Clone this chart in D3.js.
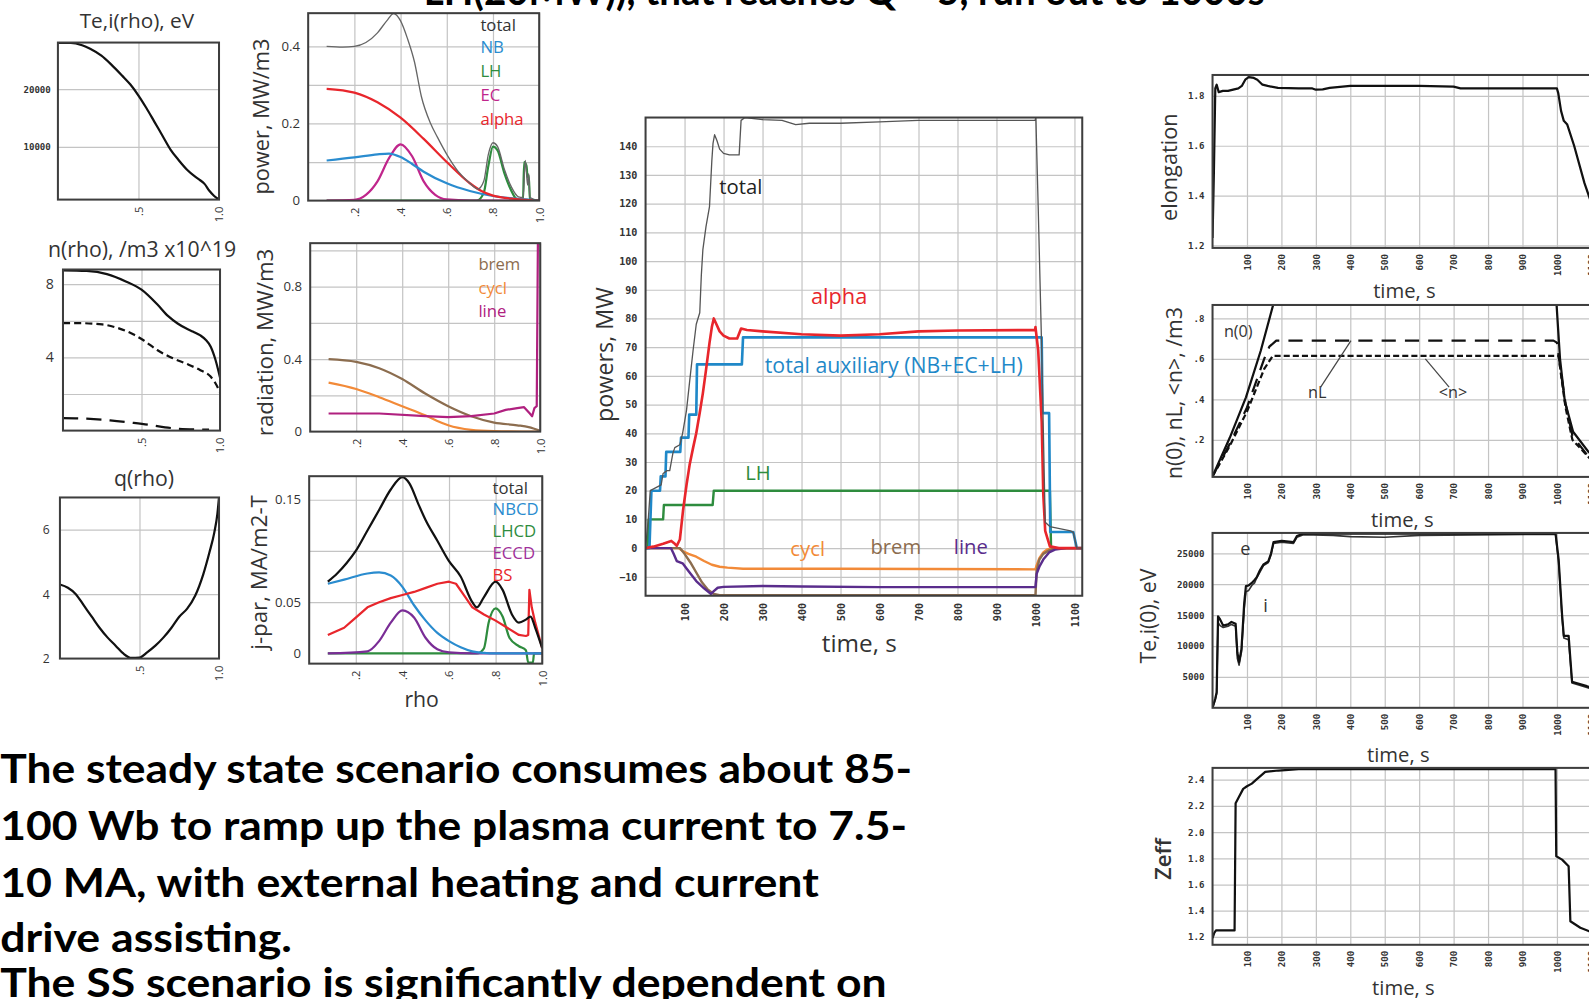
<!DOCTYPE html>
<html><head><meta charset="utf-8">
<script src="https://cdn.jsdelivr.net/npm/d3@7"></script>
<style>body{margin:0;background:#fff;overflow:hidden}</style>
</head><body>
<svg id="c" width="1589" height="999" viewBox="0 0 1568 986"></svg>
<script>
// ---------------- DATA ----------------
// radial profiles [rho, value]
const teProf = [[0,28000],[0.08,28000],[0.15,27600],[0.2,27000],[0.27,25800],[0.33,24300],[0.4,22300],[0.45,20800],[0.5,18900],[0.55,16700],[0.6,14300],[0.65,11900],[0.7,9500],[0.75,7700],[0.8,6100],[0.85,4900],[0.88,4300],[0.91,3600],[0.94,2400],[0.97,1500],[1.0,900]];
const nSolid = [[0,8.75],[0.15,8.72],[0.28,8.55],[0.4,8.15],[0.5,7.7],[0.6,6.9],[0.67,6.25],[0.73,5.85],[0.78,5.6],[0.83,5.4],[0.875,5.2],[0.91,4.95],[0.94,4.6],[0.97,3.9],[1.0,2.9]];
const nShort = [[0,5.87],[0.1,5.87],[0.25,5.8],[0.35,5.6],[0.45,5.25],[0.51,4.95],[0.6,4.4],[0.7,3.95],[0.8,3.6],[0.875,3.3],[0.94,2.95],[0.97,2.6],[1.0,2.1]];
const nLong = [[0,0.68],[0.15,0.65],[0.3,0.56],[0.45,0.42],[0.56,0.3],[0.65,0.18],[0.74,0.1],[0.85,0.06],[0.93,0.05]];
const qProf = [[0,4.3],[0.05,4.2],[0.1,4.0],[0.15,3.65],[0.2,3.3],[0.25,2.95],[0.3,2.65],[0.35,2.4],[0.4,2.15],[0.45,2.02],[0.5,2.03],[0.55,2.2],[0.6,2.4],[0.65,2.65],[0.7,2.95],[0.75,3.3],[0.8,3.55],[0.85,3.95],[0.9,4.6],[0.94,5.3],[0.97,5.9],[0.99,6.5],[1.0,7.0]];

const pTotal = [[0.08,0.40],[0.15,0.398],[0.2,0.40],[0.25,0.41],[0.3,0.435],[0.34,0.466],[0.37,0.485],[0.4,0.466],[0.43,0.42],[0.46,0.36],[0.49,0.27],[0.53,0.2],[0.56,0.164],[0.6,0.12],[0.65,0.075],[0.7,0.045],[0.735,0.03],[0.76,0.05],[0.78,0.12],[0.8,0.15],[0.82,0.14],[0.85,0.08],[0.88,0.035],[0.91,0.01],[0.93,0.008],[0.94,0.104],[0.95,0.04],[0.955,0.07],[0.96,0.008],[1.0,0]];
const pNB = [[0.08,0.104],[0.2,0.112],[0.3,0.12],[0.35,0.122],[0.4,0.113],[0.45,0.095],[0.5,0.075],[0.6,0.045],[0.7,0.025],[0.8,0.012],[0.9,0.005],[1.0,0]];
const pLH = [[0.08,0],[0.73,0],[0.76,0.02],[0.78,0.09],[0.8,0.14],[0.82,0.13],[0.85,0.07],[0.88,0.025],[0.9,0.005],[0.93,0],[0.935,0.1],[0.945,0.09],[0.95,0.06],[0.955,0.065],[0.96,0],[1.0,0]];
const pEC = [[0.08,0],[0.2,0.002],[0.25,0.015],[0.3,0.05],[0.35,0.11],[0.4,0.146],[0.45,0.115],[0.5,0.05],[0.55,0.015],[0.6,0.003],[0.7,0],[1.0,0]];
const pAlpha = [[0.08,0.29],[0.2,0.28],[0.3,0.255],[0.4,0.215],[0.5,0.16],[0.6,0.1],[0.7,0.045],[0.75,0.025],[0.8,0.013],[0.9,0.004],[1.0,0]];

const rBrem = [[0.08,0.4],[0.2,0.385],[0.3,0.35],[0.4,0.29],[0.5,0.21],[0.6,0.14],[0.7,0.085],[0.8,0.05],[0.9,0.035],[0.95,0.025],[1.0,0.005]];
const rCycl = [[0.08,0.27],[0.2,0.235],[0.3,0.19],[0.4,0.14],[0.5,0.09],[0.55,0.06],[0.6,0.035],[0.7,0.01],[0.8,0.003],[1.0,0]];
const rLine = [[0.08,0.1],[0.3,0.1],[0.5,0.085],[0.6,0.08],[0.7,0.085],[0.8,0.1],[0.85,0.12],[0.9,0.13],[0.93,0.135],[0.955,0.1],[0.965,0.085],[0.975,0.13],[0.985,0.14],[0.99,1.04],[1.0,1.04]];

const jTotal = [[0.08,0.07],[0.12,0.078],[0.16,0.088],[0.2,0.1],[0.25,0.12],[0.3,0.14],[0.35,0.16],[0.4,0.172],[0.43,0.166],[0.47,0.145],[0.5,0.13],[0.55,0.11],[0.6,0.09],[0.65,0.075],[0.7,0.05],[0.72,0.045],[0.75,0.055],[0.8,0.07],[0.83,0.062],[0.87,0.038],[0.9,0.03],[0.93,0.033],[0.95,0.036],[0.97,0.025],[1.0,0.005]];
const jNBCD = [[0.08,0.068],[0.15,0.072],[0.25,0.078],[0.3,0.079],[0.35,0.076],[0.4,0.065],[0.45,0.047],[0.5,0.032],[0.55,0.02],[0.6,0.012],[0.65,0.006],[0.7,0.002],[0.75,0.0005],[0.8,0],[1.0,0]];
const jLHCD = [[0.08,0],[0.72,0],[0.75,0.005],[0.77,0.03],[0.8,0.044],[0.83,0.036],[0.86,0.015],[0.9,0.007],[0.93,0.003],[0.94,-0.009],[0.96,-0.009],[0.965,0],[1.0,0]];
const jECCD = [[0.08,0],[0.25,0.002],[0.3,0.012],[0.35,0.03],[0.4,0.042],[0.45,0.035],[0.5,0.015],[0.55,0.004],[0.6,0.001],[0.7,0],[1.0,0]];
const jBS = [[0.08,0.018],[0.15,0.025],[0.2,0.035],[0.25,0.045],[0.3,0.05],[0.35,0.054],[0.4,0.057],[0.45,0.06],[0.5,0.064],[0.55,0.068],[0.6,0.07],[0.63,0.068],[0.67,0.055],[0.7,0.045],[0.75,0.038],[0.8,0.032],[0.85,0.025],[0.9,0.018],[0.93,0.017],[0.94,0.018],[0.945,0.062],[0.955,0.045],[0.97,0.03],[1.0,0.005]];

// time traces [time s, value]
const powTotal = [[0,0],[7,10],[12,20],[40,22],[45,26],[55,27],[62,27],[70,33],[75,35],[88,36],[95,40],[105,48],[113,58],[122,69],[130,78],[139,82],[143,95],[147,104],[155,112],[164,119],[170,135],[173,141],[177,144],[183,142],[190,139],[200,137.5],[215,137],[240,137],[245,149],[255,150],[300,149.3],[350,149],[385,147.5],[420,148],[500,148],[600,148.5],[700,149],[999,149],[1001,150],[1007,119],[1016,69],[1025,9],[1037,7.5],[1090,6],[1097,5.5],[1106,0],[1120,0]];
const powAlpha = [[0,0],[20,0.5],[45,1.5],[66,2.5],[75,1.5],[80,0.8],[88,3],[96,13],[105,22],[113,29],[122,35],[130,40],[140,48],[147,54],[155,62],[164,71.5],[170,77],[175,80],[180,78.5],[190,75.5],[200,74],[215,73],[235,73],[245,76.5],[260,76],[300,75.5],[400,74.5],[500,74],[600,74.5],[700,75.5],[800,75.8],[999,76],[1000,77],[1007,69],[1016,44],[1020,19],[1025,6],[1037,0.6],[1060,0],[1120,0]];
const powAux = [[0,0],[10,0],[15,20],[37,20],[39,25],[51,25],[53,33.5],[89,33.5],[91,38.5],[110,38.5],[112,46.5],[130,46.5],[132,64],[247,64],[250,73.4],[1016,73.4],[1018,47],[1035,47],[1038,5.6],[1097,5.6],[1106,0],[1120,0]];
const powLH = [[0,0],[5,0],[8,10],[45,10],[47,15],[172,15],[175,20],[1037,20],[1040,0],[1120,0]];
const powCycl = [[0,0],[85,0],[95,-1],[110,-2],[130,-3],[150,-4.5],[170,-5.8],[190,-6.5],[210,-6.8],[250,-7.2],[500,-7.2],[1000,-7.4],[1003,-6],[1010,-3.5],[1020,-1.5],[1030,-0.5],[1040,0],[1120,0]];
const powBrem = [[0,0],[88,0],[100,-2],[115,-5],[130,-8.5],[145,-12],[160,-14.5],[175,-16],[190,-16.4],[400,-16.4],[1000,-16.4],[1003,-8],[1010,-4],[1020,-2],[1035,-0.8],[1050,0],[1120,0]];
const powLine = [[0,0],[65,0],[72,-2],[80,-4.5],[95,-5.3],[110,-8],[130,-11.5],[150,-14],[168,-16],[175,-15],[185,-13.8],[200,-13.5],[300,-13.2],[400,-13.4],[600,-13.6],[1000,-13.6],[1003,-9],[1010,-6.5],[1020,-4],[1035,-1.5],[1050,-0.5],[1080,0],[1120,0]];

const elong = [[0,1.23],[4,1.5],[8,1.83],[12,1.845],[18,1.815],[30,1.82],[45,1.82],[60,1.825],[75,1.83],[85,1.84],[95,1.865],[105,1.875],[120,1.872],[130,1.865],[145,1.845],[160,1.84],[190,1.832],[250,1.83],[290,1.83],[300,1.825],[320,1.826],[340,1.832],[400,1.84],[600,1.84],[700,1.837],[720,1.83],[1000,1.83],[1004,1.81],[1012,1.74],[1020,1.7],[1030,1.685],[1050,1.6],[1080,1.45],[1100,1.37],[1120,1.28]];
const nCentral = [[0,0.02],[50,0.21],[97,0.41],[140,0.64],[176,0.866],[999,0.866],[1009,0.6],[1023,0.39],[1047,0.24],[1092,0.14],[1120,0.1]];
const nLine = [[0,0.02],[50,0.18],[100,0.36],[150,0.6],[165,0.66],[185,0.69],[990,0.69],[1000,0.68],[1010,0.55],[1025,0.38],[1045,0.22],[1090,0.12],[1120,0.09]];
const nAvg = [[0,0.02],[50,0.17],[100,0.34],[150,0.55],[175,0.615],[1005,0.615],[1012,0.52],[1025,0.36],[1045,0.2],[1100,0.1],[1120,0.08]];
const te0 = [[0,0],[8,1500],[12,2500],[16,14800],[22,14300],[31,13300],[45,13500],[55,13900],[67,13600],[72,9000],[77,7400],[84,9500],[92,17000],[97,19700],[105,19800],[114,20200],[122,20700],[128,21100],[138,22300],[148,23200],[162,23700],[170,25000],[177,26800],[201,27000],[235,26800],[245,27800],[264,28200],[996,28200],[1005,24000],[1015,15000],[1020,11650],[1034,11650],[1044,4200],[1087,3500],[1120,2800]];
const ti0 = [[0,0],[8,1300],[12,2300],[16,13800],[22,13300],[31,13000],[45,13200],[55,13500],[67,13200],[72,8000],[77,6900],[84,9000],[92,16000],[97,18800],[105,19000],[114,19800],[122,20200],[128,21000],[138,22000],[148,23000],[162,23500],[170,24800],[177,26600],[201,26800],[235,26600],[245,27600],[264,28000],[350,27900],[400,27700],[500,27600],[600,27900],[996,28100],[1005,23500],[1015,14500],[1020,11300],[1034,11000],[1044,4000],[1087,3300],[1120,2700]];
const zeff = [[0,1.19],[5,1.23],[10,1.25],[64,1.25],[67,2.22],[75,2.26],[89,2.33],[100,2.35],[114,2.37],[127,2.4],[153,2.46],[191,2.47],[250,2.48],[996,2.48],[998,1.815],[1015,1.79],[1034,1.74],[1039,1.32],[1068,1.27],[1092,1.245],[1120,1.23]];

// ticks
const rhoTicksLeft = [0.5, 1.0];
const rhoTicksMid = [0.2, 0.4, 0.6, 0.8, 1.0];
const timeTicks = [100,200,300,400,500,600,700,800,900,1000,1100];
const teTicks = [10000, 20000];
const nTicks = [4, 8];
const qTicks = [2, 4, 6];
const powTicks = [0, 0.2, 0.4];
const radTicks = [0, 0.4, 0.8];
const jTicks = [0, 0.05, 0.15];
const powerMWTicks = [-10,0,10,20,30,40,50,60,70,80,90,100,110,120,130,140];
const elongTicks = [1.2,1.4,1.6,1.8];
const nRTicks = [0.2,0.4,0.6,0.8];
const teRTicks = [5000,10000,15000,20000,25000];
const zeffTicks = [1.2,1.4,1.6,1.8,2.0,2.2,2.4];

const paragraph = ["The steady state scenario consumes about 85-","100 Wb to ramp up the plasma current to 7.5-","10 MA, with external heating and current","drive assisting.","The SS scenario is significantly dependent on"];
const titleText = "LH(20MW)), that reaches Q ~ 5, run out to 1000s";

// ---------------- DRAW ----------------
const svg = d3.select('#c');
const defs = svg.append('defs');
let clipN = 0;
const SANS = "'Open Sans','Noto Sans',sans-serif";
const MONO = "'DejaVu Sans Mono',monospace";
const C = {red:'#e8262c', blue:'#2a8ccf', green:'#2e8c3e', mag:'#c0268c', purple:'#7a2d96', brown:'#8c6d4f', orange:'#f28a38', gray:'#555'};

const rhoFmt = v => v === 1 ? '1.0' : d3.format('.1f')(v).replace(/^0/, '');
const monoTick = {font: MONO, size: 9, weight: 'bold'};

function panel(o){
  const x = d3.scaleLinear().domain(o.xd).range([o.l, o.r]);
  const y = d3.scaleLinear().domain(o.yd).range([o.b, o.t]);
  const id = 'clip' + (clipN++);
  defs.append('clipPath').attr('id', id).append('rect')
    .attr('x', o.l).attr('y', o.t).attr('width', o.r - o.l).attr('height', o.b - o.t);
  const g = svg.append('g');
  const gx = g.append('g').attr('transform', `translate(0,${o.b})`)
    .call(d3.axisBottom(x).tickValues(o.xgrid).tickSize(-(o.b - o.t)).tickFormat(''));
  const gy = g.append('g').attr('transform', `translate(${o.l},0)`)
    .call(d3.axisLeft(y).tickValues(o.ygrid).tickSize(-(o.r - o.l)).tickFormat(''));
  [gx, gy].forEach(s => { s.select('.domain').remove(); s.selectAll('line').attr('stroke', '#c4c4c4').attr('stroke-width', 1.2); });
  const lg = g.append('g').attr('clip-path', `url(#${id})`);
  o.series.forEach(s => {
    lg.append('path').datum(s.data)
      .attr('d', d3.line().x(d => x(d[0])).y(d => y(d[1])).curve(s.curve || d3.curveLinear))
      .attr('fill', 'none').attr('stroke', s.color).attr('stroke-width', s.w || 2)
      .attr('stroke-dasharray', s.dash || null).attr('stroke-linejoin', 'round');
  });
  g.append('rect').attr('x', o.l).attr('y', o.t).attr('width', o.r - o.l).attr('height', o.b - o.t)
    .attr('fill', 'none').attr('stroke', '#3e3e3e').attr('stroke-width', 2);
  if (o.yticks) {
    const ay = g.append('g').attr('transform', `translate(${o.l},0)`)
      .call(d3.axisLeft(y).tickValues(o.yticks).tickFormat(o.yfmt).tickSize(0).tickPadding(o.ypad || 6));
    ay.select('.domain').remove();
    ay.selectAll('text').attr('font-family', o.yfont.font).attr('font-size', o.yfont.size)
      .attr('font-weight', o.yfont.weight || 'normal').attr('fill', '#333');
  }
  if (o.xticks) {
    const ax = g.append('g').attr('transform', `translate(0,${o.b})`)
      .call(d3.axisBottom(x).tickValues(o.xticks).tickFormat(o.xfmt).tickSize(0));
    ax.select('.domain').remove();
    ax.selectAll('text').attr('y', 0).attr('x', 0).attr('dy', '0.35em')
      .attr('transform', `translate(0,${o.xpad || 5}) rotate(-90)`).attr('text-anchor', 'end')
      .attr('font-family', o.xfont.font).attr('font-size', o.xfont.size)
      .attr('font-weight', o.xfont.weight || 'normal').attr('fill', '#333');
  }
  return {x, y};
}

function label(x, y, s, size, color, opts = {}) {
  const t = svg.append('text').text(s).attr('font-family', opts.font || SANS).attr('font-size', size)
    .attr('fill', color || '#222').attr('dy', '0.35em').attr('font-weight', opts.weight || 'normal');
  if (opts.rotate) t.attr('transform', `translate(${x},${y}) rotate(-90)`).attr('text-anchor', 'middle');
  else t.attr('x', x).attr('y', y).attr('text-anchor', opts.anchor || 'middle');
  return t;
}

const mono = d3.curveMonotoneX;
// ---- left column ----
panel({l:57, r:216, t:42, b:197, xd:[0,1], yd:[877,28070], xgrid:[0.5], ygrid:[10000,20000],
  xticks:rhoTicksLeft, xfmt:rhoFmt, xfont:{font:SANS,size:11}, xpad:7,
  yticks:teTicks, yfmt:d3.format('d'), yfont:monoTick, ypad:7,
  series:[{data:teProf, color:'#111', w:2.2, curve:mono}]});
label(135, 20, 'Te,i(rho), eV', 20.5, '#333');

panel({l:62, r:217, t:266, b:425, xd:[0,1], yd:[0,8.8], xgrid:[0.5], ygrid:[2,4,6,8],
  xticks:rhoTicksLeft, xfmt:rhoFmt, xfont:{font:SANS,size:11}, xpad:7,
  yticks:nTicks, yfmt:d3.format('d'), yfont:{font:SANS,size:14}, ypad:9,
  series:[{data:nSolid, color:'#111', w:2.2, curve:mono},
          {data:nShort, color:'#111', w:2.2, dash:'7,4', curve:mono},
          {data:nLong, color:'#111', w:2.2, dash:'15,8', curve:mono}]});
label(140, 246, 'n(rho), /m3 x10^19', 21, '#333');

panel({l:59, r:216, t:491, b:650, xd:[0,1], yd:[2,7], xgrid:[0.5], ygrid:[4,6],
  xticks:rhoTicksLeft, xfmt:rhoFmt, xfont:{font:SANS,size:11}, xpad:7,
  yticks:qTicks, yfmt:d3.format('d'), yfont:{font:SANS,size:12}, ypad:10,
  series:[{data:qProf, color:'#111', w:2.2, curve:mono}]});
label(142, 472, 'q(rho)', 21, '#333');

// ---- middle column ----
panel({l:304, r:532, t:13, b:198, xd:[0,1], yd:[0,0.486], xgrid:rhoTicksMid, ygrid:[0.1,0.2,0.3,0.4],
  xticks:rhoTicksMid, xfmt:rhoFmt, xfont:{font:SANS,size:11}, xpad:7,
  yticks:powTicks, yfmt:v => v === 0 ? '0' : d3.format('.1f')(v), yfont:{font:SANS,size:13}, ypad:8,
  series:[{data:pLH, color:C.green, w:2.2, curve:mono},
          {data:pEC, color:C.mag, w:2.2, curve:mono},
          {data:pNB, color:C.blue, w:2.2, curve:mono},
          {data:pAlpha, color:C.red, w:2.2, curve:mono},
          {data:pTotal, color:'#666', w:1.3, curve:mono}]});
label(258, 115, 'power, MW/m3', 21.5, '#333', {rotate:true});
[['total','#333',25],['NB',C.blue,47],['LH',C.green,70],['EC',C.mag,94],['alpha',C.red,118]]
  .forEach(d => label(474, d[2], d[0], 16.5, d[1], {anchor:'start'}));

panel({l:306, r:533, t:240, b:426, xd:[0,1], yd:[0,1.04], xgrid:rhoTicksMid, ygrid:[0.2,0.4,0.6,0.8,1.0],
  xticks:rhoTicksMid, xfmt:rhoFmt, xfont:{font:SANS,size:11}, xpad:7,
  yticks:radTicks, yfmt:v => v === 0 ? '0' : d3.format('.1f')(v), yfont:{font:SANS,size:13}, ypad:8,
  series:[{data:rCycl, color:C.orange, w:2.2, curve:mono},
          {data:rBrem, color:C.brown, w:2.2, curve:mono},
          {data:rLine, color:'#b0207f', w:2.2, curve:d3.curveLinear}]});
label(262, 338, 'radiation, MW/m3', 22, '#333', {rotate:true});
[['brem',C.brown,261],['cycl',C.orange,284],['line','#b0207f',307]]
  .forEach(d => label(472, d[2], d[0], 16.5, d[1], {anchor:'start'}));

panel({l:305, r:535, t:470, b:655, xd:[0,1], yd:[-0.01,0.173], xgrid:rhoTicksMid, ygrid:[0.05,0.1,0.15],
  xticks:rhoTicksMid, xfmt:rhoFmt, xfont:{font:SANS,size:11}, xpad:7,
  yticks:jTicks, yfmt:v => v === 0 ? '0' : String(v), yfont:{font:SANS,size:13}, ypad:8,
  series:[{data:jLHCD, color:C.green, w:2.2, curve:mono},
          {data:jECCD, color:C.purple, w:2.2, curve:mono},
          {data:jNBCD, color:C.blue, w:2.2, curve:mono},
          {data:jBS, color:C.red, w:2.2, curve:d3.curveLinear},
          {data:jTotal, color:'#111', w:2.2, curve:mono}]});
label(256, 565, 'j-par, MA/m2-T', 22, '#333', {rotate:true});
[['total','#333',482],['NBCD',C.blue,503],['LHCD',C.green,524],['ECCD','#a0309a',546],['BS',C.red,568]]
  .forEach(d => label(486, d[2], d[0], 16.5, d[1], {anchor:'start'}));
label(416, 690, 'rho', 21, '#333');

// ---- central chart ----
panel({l:637, r:1068, t:116, b:588, xd:[0,1120], yd:[-16.6,150], xgrid:timeTicks, ygrid:powerMWTicks,
  xticks:timeTicks, xfmt:d3.format('d'), xfont:{font:MONO,size:10,weight:'bold'}, xpad:7,
  yticks:powerMWTicks, yfmt:d3.format('d'), yfont:{font:MONO,size:10,weight:'bold'}, ypad:8,
  series:[{data:powLH, color:C.green, w:2.4},
          {data:powCycl, color:C.orange, w:2.4},
          {data:powBrem, color:C.brown, w:2.4},
          {data:powLine, color:'#5a2d8c', w:2.4},
          {data:powAux, color:'#1f88c8', w:2.6},
          {data:powAlpha, color:C.red, w:2.6},
          {data:powTotal, color:'#555', w:1.3}]});
label(597, 350, 'powers, MW', 23, '#333', {rotate:true});
label(848, 635, 'time, s', 24, '#333');
label(731, 184, 'total', 20, '#222');
label(828, 293, 'alpha', 21.5, C.red);
label(882, 361, 'total auxiliary (NB+EC+LH)', 21, '#1f88c8');
label(748, 467, 'LH', 20, C.green);
label(797, 542, 'cycl', 20, C.orange);
label(884, 540, 'brem', 20, C.brown);
label(958, 540, 'line', 20, '#5a2d8c');

// ---- right column ----
const RL = 1196.6, RR = 1196.6 + 1120 * 0.3399;
panel({l:RL, r:RR, t:74, b:244.7, xd:[0,1120], yd:[1.19,1.884], xgrid:timeTicks, ygrid:elongTicks,
  xticks:timeTicks, xfmt:d3.format('d'), xfont:monoTick, xpad:6,
  yticks:elongTicks, yfmt:d3.format('.1f'), yfont:monoTick, ypad:8,
  series:[{data:elong, color:'#111', w:2.2}]});
label(1154, 165, 'elongation', 21.5, '#333', {rotate:true});
label(1386, 287, 'time, s', 20, '#333');

const nr = panel({l:RL, r:RR, t:301, b:470.7, xd:[0,1120], yd:[0.017,0.866], xgrid:timeTicks, ygrid:nRTicks,
  xticks:timeTicks, xfmt:d3.format('d'), xfont:monoTick, xpad:6,
  yticks:nRTicks, yfmt:v => d3.format('.1f')(v).replace(/^0/, ''), yfont:monoTick, ypad:8,
  series:[{data:nAvg, color:'#111', w:2.2, dash:'6,3'},
          {data:nLine, color:'#111', w:2.2, dash:'14,9'},
          {data:nCentral, color:'#111', w:2.2}]});
label(1159, 388, 'n(0), nL, <n>, /m3', 21, '#333', {rotate:true});
label(1384, 513, 'time, s', 20, '#333');
label(1222, 327, 'n(0)', 16, '#333');
label(1300, 387, 'nL', 16, '#333');
label(1434, 387, '<n>', 16, '#333');
svg.append('line').attr('x1', nr.x(314)).attr('y1', nr.y(0.46)).attr('x2', nr.x(402)).attr('y2', nr.y(0.69)).attr('stroke', '#444').attr('stroke-width', 1.2);
svg.append('line').attr('x1', nr.x(687)).attr('y1', nr.y(0.46)).attr('x2', nr.x(618)).attr('y2', nr.y(0.6)).attr('stroke', '#444').attr('stroke-width', 1.2);

panel({l:RL, r:RR, t:526, b:698.6, xd:[0,1120], yd:[0,28300], xgrid:timeTicks, ygrid:teRTicks,
  xticks:timeTicks, xfmt:d3.format('d'), xfont:monoTick, xpad:6,
  yticks:teRTicks, yfmt:d3.format('d'), yfont:monoTick, ypad:8,
  series:[{data:ti0, color:'#333', w:1.6},
          {data:te0, color:'#111', w:2.2}]});
label(1133, 608, 'Te,i(0), eV', 21, '#333', {rotate:true});
label(1380, 745, 'time, s', 20, '#333');
label(1229, 541, 'e', 18, '#333');
label(1249, 598, 'i', 18, '#333');

panel({l:RL, r:RR, t:757.9, b:932.5, xd:[0,1120], yd:[1.14,2.49], xgrid:timeTicks, ygrid:zeffTicks,
  xticks:timeTicks, xfmt:d3.format('d'), xfont:monoTick, xpad:6,
  yticks:zeffTicks, yfmt:d3.format('.1f'), yfont:monoTick, ypad:8,
  series:[{data:zeff, color:'#111', w:2.2}]});
label(1148, 848, 'Zeff', 22, '#333', {rotate:true, weight:'600'});
label(1385, 975, 'time, s', 20, '#333');

// ---- text ----
const paraY = [773, 829, 885, 940, 984];
const paraW = [900, 895, 808, 288, 875];
paragraph.forEach((s, i) => {
  svg.append('text').attr('x', 0).attr('y', paraY[i]).text(s)
    .attr('font-family', "Lato,'Open Sans',sans-serif").attr('font-weight', 'bold').attr('font-size', 40)
    .attr('fill', '#000').attr('textLength', paraW[i]).attr('lengthAdjust', 'spacingAndGlyphs');
});
svg.append('text').attr('x', 418).attr('y', 5).text(titleText)
  .attr('font-family', "Lato,'Open Sans',sans-serif").attr('font-weight', 'bold').attr('font-size', 40)
  .attr('fill', '#000').attr('textLength', 830).attr('lengthAdjust', 'spacingAndGlyphs');
</script>
</body></html>
